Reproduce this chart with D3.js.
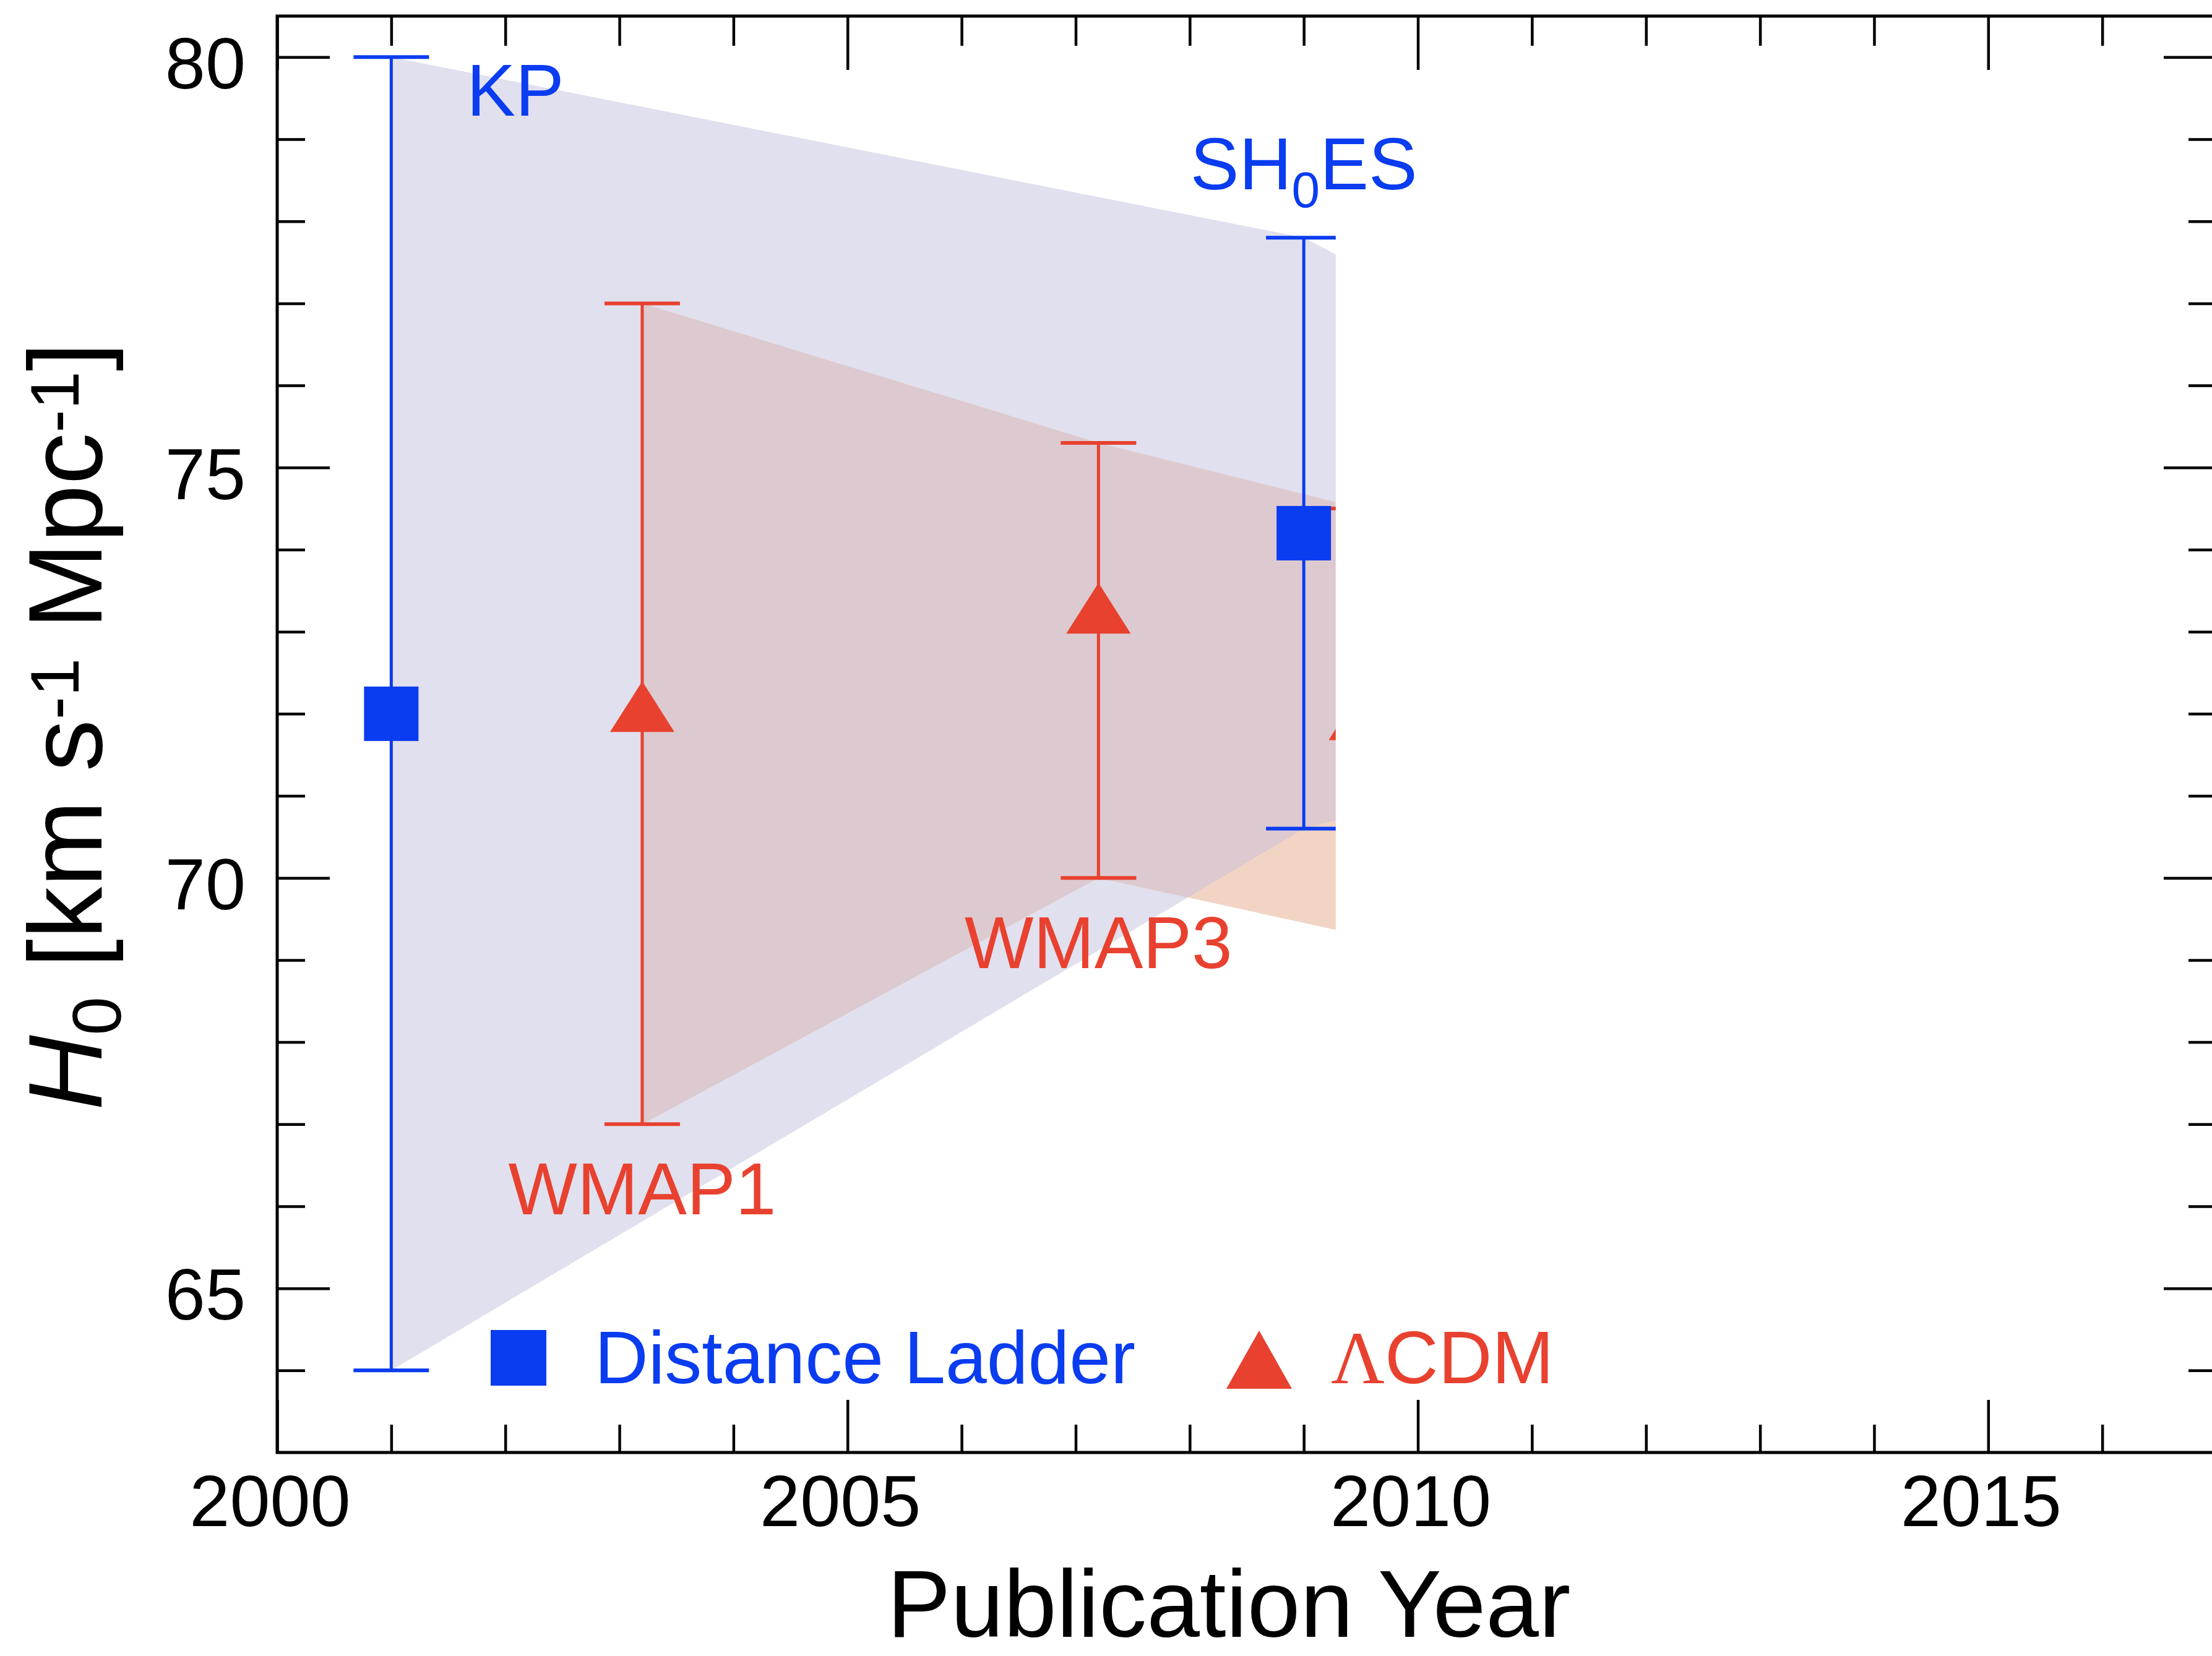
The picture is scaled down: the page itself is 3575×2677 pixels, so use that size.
<!DOCTYPE html>
<html>
<head>
<meta charset="utf-8">
<script src="https://d3js.org/d3.v7.min.js"></script>
<style>
    body { margin: 0; background: #ffffff; }
    text { font-family: "Liberation Sans", Arial, sans-serif; }
</style>
</head>
<body>
<div id="chart"></div>
<script>
// H0 measurements: distance ladder (squares) and LCDM / CMB (triangles)
// the third point of each series sits under the white cover, only its edge shows
var ladderNames = [ "KP", "SH0ES", "" ];
var ladderYears = [ 2001.0, 2009.0, 2011.2 ];
var ladderH0    = [ 72.0, 74.2, 73.8 ];
var ladderLow   = [ 64.0, 70.6, 71.4 ];
var ladderHigh  = [ 80.0, 77.8, 76.2 ];

var cmbNames = [ "WMAP1", "WMAP3", "" ];
var cmbYears = [ 2003.2, 2007.2, 2009.5 ];
var cmbH0    = [ 72.0, 73.2, 71.9 ];
var cmbLow   = [ 67.0, 70.0, 69.3 ];
var cmbHigh  = [ 77.0, 75.3, 74.5 ];

var yearTicks = [ 2000, 2005, 2010, 2015 ];
var h0Ticks   = [ 65, 70, 75, 80 ];

var blue = "#0a3cf0",
    red = "#e8412f";

var W = 3575, H = 2677;

// set the ranges
var x = d3.scaleLinear().domain( [ 2000, 2017 ] ).range( [ 448, 3582 ] );
var y = d3.scaleLinear().domain( [ 63, 80.5 ] ).range( [ 2348, 26 ] );

var svg = d3.select( "#chart" ).append( "svg" )
    .attr( "width", W )
    .attr( "height", H );

function build( names, years, h0, low, high )
{
    var out = [];
    for( var i = 0 ; i < years.length ; i++ )
        out.push( { name: names[ i ], year: years[ i ], h0: h0[ i ], low: low[ i ], high: high[ i ] } );
    return out;
}

var ladder = build( ladderNames, ladderYears, ladderH0, ladderLow, ladderHigh );
var cmb = build( cmbNames, cmbYears, cmbH0, cmbLow, cmbHigh );

// band joining the error bar ends
var band = d3.area()
    .x( function( d ) { return x( d.year ); } )
    .y0( function( d ) { return y( d.low ); } )
    .y1( function( d ) { return y( d.high ); } );

svg.append( "clipPath" ).attr( "id", "ladderClip" )
    .append( "path" ).attr( "d", band( ladder ) );

svg.append( "path" ).attr( "d", band( ladder ) ).attr( "fill", "#e0e0ee" );
svg.append( "path" ).attr( "d", band( cmb ) ).attr( "fill", "#f1d4c4" );
// overlap of the two bands
svg.append( "path" ).attr( "d", band( cmb ) )
    .attr( "fill", "#dccad0" )
    .attr( "clip-path", "url(#ladderClip)" );

// error bars
function errorBars( data, color )
{
    var g = svg.append( "g" ).attr( "stroke", color );
    g.selectAll( "line.bar" ).data( data ).enter().append( "line" )
        .attr( "class", "bar" )
        .attr( "x1", function( d ) { return x( d.year ); } )
        .attr( "x2", function( d ) { return x( d.year ); } )
        .attr( "y1", function( d ) { return y( d.low ); } )
        .attr( "y2", function( d ) { return y( d.high ); } )
        .attr( "stroke-width", 5 );
    [ "low", "high" ].forEach( function( k ) {
        g.selectAll( "line.cap-" + k ).data( data ).enter().append( "line" )
            .attr( "class", "cap-" + k )
            .attr( "x1", function( d ) { return x( d.year ) - 61; } )
            .attr( "x2", function( d ) { return x( d.year ) + 61; } )
            .attr( "y1", function( d ) { return y( d[ k ] ); } )
            .attr( "y2", function( d ) { return y( d[ k ] ); } )
            .attr( "stroke-width", 6 );
    });
}
errorBars( ladder, blue );
errorBars( cmb, red );

// markers
svg.selectAll( "rect.sq" ).data( ladder ).enter().append( "rect" )
    .attr( "class", "sq" )
    .attr( "x", function( d ) { return x( d.year ) - 44; } )
    .attr( "y", function( d ) { return y( d.h0 ) - 44; } )
    .attr( "width", 88 )
    .attr( "height", 88 )
    .attr( "fill", blue );

function triangle( w, h )
{
    // apex up, centred on the point
    return "M0," + ( -h * 0.64 ) + "L" + ( w / 2 ) + "," + ( h * 0.36 ) + "L" + ( -w / 2 ) + "," + ( h * 0.36 ) + "Z";
}

svg.selectAll( "path.tri" ).data( cmb ).enter().append( "path" )
    .attr( "class", "tri" )
    .attr( "d", triangle( 104, 82 ) )
    .attr( "transform", function( d ) { return "translate(" + x( d.year ) + "," + y( d.h0 ) + ")"; } )
    .attr( "fill", red );

// white cover over the later measurements
svg.append( "rect" )
    .attr( "x", x( 2009.28 ) )
    .attr( "y", y( 78.0 ) )
    .attr( "width", x( 2016.8 ) - x( 2009.28 ) )
    .attr( "height", y( 64.8 ) - y( 78.0 ) )
    .attr( "fill", "#ffffff" );
svg.append( "rect" )
    .attr( "x", x( 2009.1 ) )
    .attr( "y", y( 69.36 ) )
    .attr( "width", x( 2009.3 ) - x( 2009.1 ) )
    .attr( "height", y( 68.2 ) - y( 69.36 ) )
    .attr( "fill", "#ffffff" );

// point labels
var lab = svg.append( "g" ).style( "font-size", "118px" );

ladder.forEach( function( d, i ) {
    if( !d.name ) return;
    if( i == 0 )
    {
        lab.append( "text" )
            .attr( "x", x( d.year ) + 122 )
            .attr( "y", y( d.high ) + 95 )
            .attr( "fill", blue )
            .text( d.name );
    }
    else
    {
        // SH0ES with subscript zero
        var t = lab.append( "text" )
            .attr( "x", x( d.year ) )
            .attr( "y", y( d.high ) - 78 )
            .attr( "fill", blue )
            .style( "text-anchor", "middle" );
        t.append( "tspan" ).text( "SH" );
        t.append( "tspan" ).attr( "dy", 29 ).style( "font-size", "82px" ).text( "0" );
        t.append( "tspan" ).attr( "dy", -29 ).text( "ES" );
    }
});

cmb.forEach( function( d ) {
    if( !d.name ) return;
    lab.append( "text" )
        .attr( "x", x( d.year ) )
        .attr( "y", y( d.low ) + 146 )
        .attr( "fill", red )
        .style( "text-anchor", "middle" )
        .text( d.name );
});

// axes, ticks point inward on all four sides
function styleAxis( g )
{
    g.select( ".domain" ).remove();
    g.selectAll( ".tick line" ).attr( "stroke", "#000" ).attr( "stroke-width", 4.5 );
    g.selectAll( "text" ).attr( "fill", "#000" ).style( "font-size", "117px" )
        .style( "font-family", "'Liberation Sans', Arial, sans-serif" );
}

var minorYears = d3.range( 2001, 2017 ).filter( function( v ) { return v % 5 != 0; } );
var minorH0 = d3.range( 64, 81 ).filter( function( v ) { return v % 5 != 0; } );

// bottom
svg.append( "g" ).attr( "transform", "translate(0," + y( 63 ) + ")" )
    .call( d3.axisBottom( x ).tickValues( yearTicks ).tickSize( -85 ).tickPadding( 36 ).tickFormat( d3.format( "d" ) ) )
    .call( styleAxis )
    .selectAll( "text" ).attr( "dx", -12 );
svg.append( "g" ).attr( "transform", "translate(0," + y( 63 ) + ")" )
    .call( d3.axisBottom( x ).tickValues( minorYears ).tickSize( -45 ).tickFormat( "" ) )
    .call( styleAxis );

// top
svg.append( "g" ).attr( "transform", "translate(0," + y( 80.5 ) + ")" )
    .call( d3.axisTop( x ).tickValues( yearTicks ).tickSize( -87 ).tickFormat( "" ) )
    .call( styleAxis );
svg.append( "g" ).attr( "transform", "translate(0," + y( 80.5 ) + ")" )
    .call( d3.axisTop( x ).tickValues( minorYears ).tickSize( -48 ).tickFormat( "" ) )
    .call( styleAxis );

// left
svg.append( "g" ).attr( "transform", "translate(" + x( 2000 ) + ",0)" )
    .call( d3.axisLeft( y ).tickValues( h0Ticks ).tickSize( -85 ).tickPadding( 51 ) )
    .call( styleAxis )
    .selectAll( "text" ).attr( "dy", "0.43em" );
svg.append( "g" ).attr( "transform", "translate(" + x( 2000 ) + ",0)" )
    .call( d3.axisLeft( y ).tickValues( minorH0 ).tickSize( -45 ).tickFormat( "" ) )
    .call( styleAxis );

// right
svg.append( "g" ).attr( "transform", "translate(" + x( 2017 ) + ",0)" )
    .call( d3.axisRight( y ).tickValues( h0Ticks ).tickSize( -85 ).tickFormat( "" ) )
    .call( styleAxis );
svg.append( "g" ).attr( "transform", "translate(" + x( 2017 ) + ",0)" )
    .call( d3.axisRight( y ).tickValues( minorH0 ).tickSize( -45 ).tickFormat( "" ) )
    .call( styleAxis );

// frame
svg.append( "rect" )
    .attr( "x", x( 2000 ) )
    .attr( "y", y( 80.5 ) )
    .attr( "width", x( 2017 ) - x( 2000 ) )
    .attr( "height", y( 63 ) - y( 80.5 ) )
    .attr( "fill", "none" )
    .attr( "stroke", "#000" )
    .attr( "stroke-width", 5 );

// legend
var leg = svg.append( "g" ).style( "font-size", "120px" );
leg.append( "rect" )
    .attr( "x", 793 ).attr( "y", 2150 )
    .attr( "width", 90 ).attr( "height", 90 )
    .attr( "fill", blue );
leg.append( "text" )
    .attr( "x", 961 ).attr( "y", 2236 )
    .attr( "fill", blue )
    .text( "Distance Ladder" );
leg.append( "path" )
    .attr( "d", triangle( 106, 94 ) )
    .attr( "transform", "translate(2035," + ( 2245 - 94 * 0.36 ) + ")" )
    .attr( "fill", red );
var lcdm = leg.append( "text" )
    .attr( "x", 2151 ).attr( "y", 2236 )
    .attr( "fill", red );
lcdm.append( "tspan" ).style( "font-family", "'Liberation Serif', 'Times New Roman', serif" ).text( "Λ" );
lcdm.append( "tspan" ).text( "CDM" );

// text label for the x axis
svg.append( "text" )
    .attr( "x", 1986 )
    .attr( "y", 2646 )
    .style( "font-size", "154px" )
    .style( "text-anchor", "middle" )
    .attr( "fill", "#000" )
    .text( "Publication Year" );

// text label for the y axis
var yl = svg.append( "text" )
    .attr( "transform", "translate(164,1174) rotate(-90)" )
    .style( "font-size", "168px" )
    .style( "text-anchor", "middle" )
    .attr( "fill", "#000" );
yl.append( "tspan" ).style( "font-style", "italic" ).text( "H" );
yl.append( "tspan" ).attr( "dy", 31 ).style( "font-size", "112px" ).text( "0" );
yl.append( "tspan" ).attr( "dy", -31 ).text( " [km s" );
yl.append( "tspan" ).attr( "dy", -37 ).style( "font-size", "112px" ).text( "-1" );
yl.append( "tspan" ).attr( "dy", 37 ).text( " Mpc" );
yl.append( "tspan" ).attr( "dy", -37 ).style( "font-size", "112px" ).text( "-1" );
yl.append( "tspan" ).attr( "dy", 37 ).text( "]" );
</script>
</body>
</html>
